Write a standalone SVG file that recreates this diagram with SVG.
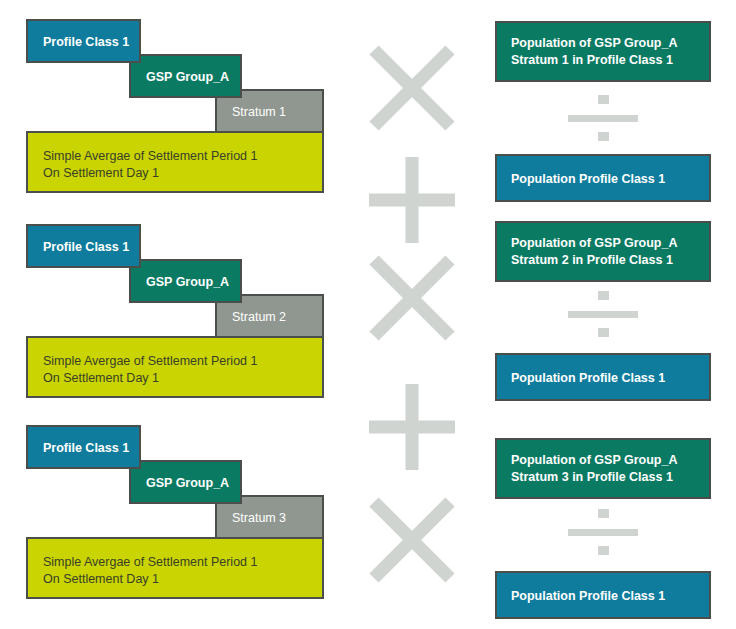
<svg xmlns="http://www.w3.org/2000/svg" width="736" height="629" viewBox="0 0 736 629">
<style>
rect{stroke:#4a4f4c;stroke-width:2}
.b{fill:#0f7c9d}.g{fill:#0b7a63}.s{fill:#8f9790}.y{fill:#c9d400}
.w{fill:#fff;font-family:"Liberation Sans",Arial,sans-serif;font-size:12.5px;font-weight:bold}
.d{fill:#3a3f2a;font-family:"Liberation Sans",Arial,sans-serif;font-size:12.5px}
.op{stroke:#d0d4d0;stroke-width:13;fill:none}
.dv{fill:#d0d4d0;stroke:none}
</style>
<rect width="736" height="629" style="fill:#fff;stroke:none"/>
<defs>
<g id="L">
<rect class="y" x="27" y="132" width="296" height="60"/>
<rect class="s" x="216" y="90" width="107" height="42"/>
<rect class="g" x="130" y="55" width="111" height="42"/>
<rect class="b" x="27" y="20" width="113" height="42"/>
<text class="w" x="43" y="46">Profile Class 1</text>
<text class="w" x="146" y="81">GSP Group_A</text>
<text class="d" x="232" y="116" style="fill:#fff">Stratum</text>
<text class="d" x="43" y="160">Simple Avergae of Settlement Period 1</text>
<text class="d" x="43" y="177">On Settlement Day 1</text>
</g>
<path id="X" class="op" d="M-38,-38L38,38M38,-38L-38,38"/>
<path id="P" class="op" d="M-43,0H43M0,-43V43"/>
<g id="D"><rect class="dv" x="-5" y="0" width="11" height="9"/><rect class="dv" x="-35" y="20" width="70" height="7"/><rect class="dv" x="-5" y="37" width="11" height="9"/></g>
</defs>
<g id="left1"><use href="#L"/><text class="w" x="279" y="116" style="font-weight:normal">1</text></g>
<g id="left2"><use href="#L" y="205"/><text class="w" x="279" y="321" style="font-weight:normal">2</text></g>
<g id="left3"><use href="#L" y="406"/><text class="w" x="279" y="522" style="font-weight:normal">3</text></g>
<g id="ops">
<use href="#X" x="412" y="88"/><use href="#P" x="412" y="200"/>
<use href="#X" x="412" y="298"/><use href="#P" x="412" y="427"/>
<use href="#X" x="412" y="540"/>
<use href="#D" x="603" y="95"/><use href="#D" x="603" y="291"/><use href="#D" x="603" y="509"/>
</g>
<g id="right1"><rect class="g" x="496" y="22" width="214" height="59"/>
<text class="w" x="511" y="47">Population of GSP Group_A</text><text class="w" x="511" y="64">Stratum 1 in Profile Class 1</text>
<rect class="b" x="496" y="155" width="214" height="46"/><text class="w" x="511" y="183">Population Profile Class 1</text></g>
<g id="right2"><rect class="g" x="496" y="222" width="214" height="59"/>
<text class="w" x="511" y="247">Population of GSP Group_A</text><text class="w" x="511" y="264">Stratum 2 in Profile Class 1</text>
<rect class="b" x="496" y="354" width="214" height="46"/><text class="w" x="511" y="382">Population Profile Class 1</text></g>
<g id="right3"><rect class="g" x="496" y="439" width="214" height="59"/>
<text class="w" x="511" y="464">Population of GSP Group_A</text><text class="w" x="511" y="481">Stratum 3 in Profile Class 1</text>
<rect class="b" x="496" y="572" width="214" height="46"/><text class="w" x="511" y="600">Population Profile Class 1</text></g>
</svg>
